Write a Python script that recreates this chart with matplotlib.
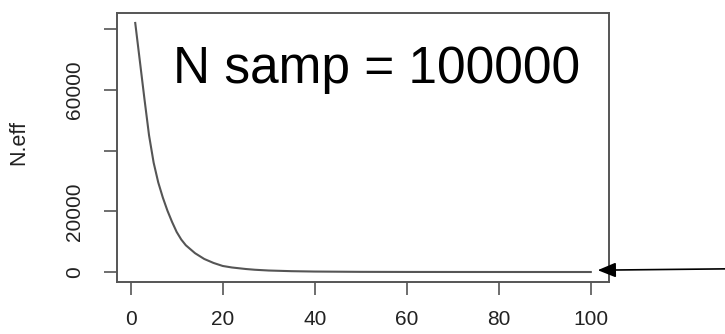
import matplotlib
matplotlib.use("Agg")
import matplotlib.pyplot as plt

plt.rcParams['font.family'] = ['Liberation Sans', 'DejaVu Sans']

# --- data ---
lag = [1, 2, 3, 4, 5, 6, 7, 8, 9, 10, 11, 12, 14, 16, 18, 20, 22, 25, 27, 30,
       35, 40, 50, 60, 70, 80, 90, 100]
n_eff = [82000, 69500, 57000, 45000, 36000, 29500, 24500, 20200, 16500, 13200,
         10700, 8800, 6200, 4300, 3000, 2000, 1500, 1000, 750, 500,
         280, 160, 60, 30, 20, 15, 12, 10]

xticks = [0, 20, 40, 60, 80, 100]
yticks = [0, 20000, 40000, 60000, 80000]
ytick_labels = ['0', '20000', '', '60000', '']

title_text = 'N samp = 100000'

fig = plt.figure(figsize=(7.25, 3.34), dpi=100)
ax = fig.add_axes([0.1614, 0.1557, 0.6786, 0.8054])

ax.plot(lag, n_eff, color='#555555', lw=1.5)

# R style 4% padding
xr = max(lag) - min(lag)
yr = max(n_eff) - 0
ax.set_xlim(min(lag) - 0.04 * xr, max(lag) + 0.04 * xr)
ax.set_ylim(0 - 0.04 * yr, max(n_eff) + 0.04 * yr)

ax.set_xticks(xticks)
ax.set_yticks(yticks)
ax.set_yticklabels(ytick_labels, rotation=90, va='center')
ax.tick_params(axis='both', length=9.5, width=1.2, color='#555555',
               labelsize=15, labelcolor='#222222', pad=14)
ax.tick_params(axis='x', pad=11)

for s in ax.spines.values():
    s.set_color('#555555')
    s.set_linewidth(1.4)

ax.set_ylabel('N.eff', fontsize=15.5, color='#222222')
ax.yaxis.set_label_coords(-0.178, 0.52)

ax.text(0.114, 0.74, title_text, transform=ax.transAxes, fontsize=37,
        color='black', ha='left', va='baseline')

# arrow pointing at the tail of the curve
ax.annotate('', xy=(lag[-1] + 1.5, n_eff[-1] + 600), xycoords='data',
            xytext=(1.0, 0.195), textcoords='figure fraction',
            arrowprops=dict(arrowstyle='-|>,head_length=1.1,head_width=0.45',
                            color='black', lw=1.2, shrinkA=0, shrinkB=0),
            annotation_clip=False)

fig.savefig('out.png', dpi=100)
